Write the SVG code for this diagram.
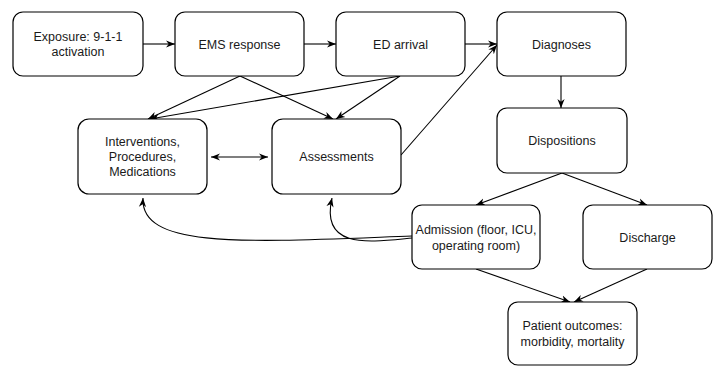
<svg xmlns="http://www.w3.org/2000/svg" width="718" height="366" viewBox="0 0 718 366">
<style>
.box{fill:#fff;stroke:#000;stroke-width:1.2}
text{font-family:"Liberation Sans",Arial,sans-serif;font-size:12.5px;fill:#1a1a1a;text-anchor:middle}
.e{fill:none;stroke:#000;stroke-width:1.1}
</style>
<defs>
<marker id="a" viewBox="0 0 10 10" refX="10" refY="5" markerWidth="9" markerHeight="9" markerUnits="userSpaceOnUse" orient="auto-start-reverse">
<path d="M0,1 L10,5 L0,9 L3,5 Z" fill="#000"/>
</marker>
</defs>
<g id="edges">
<line class="e" x1="143" y1="44" x2="175" y2="44" marker-end="url(#a)"/>
<line class="e" x1="304" y1="44" x2="336" y2="44" marker-end="url(#a)"/>
<line class="e" x1="465" y1="44" x2="497" y2="44" marker-end="url(#a)"/>
<line class="e" x1="240" y1="76" x2="148" y2="119" marker-end="url(#a)"/>
<line class="e" x1="240" y1="76" x2="333" y2="119" marker-end="url(#a)"/>
<line class="e" x1="400" y1="76" x2="150" y2="119" marker-end="url(#a)"/>
<line class="e" x1="400" y1="76" x2="336" y2="119" marker-end="url(#a)"/>
<line class="e" x1="401" y1="155" x2="497" y2="45" marker-end="url(#a)"/>
<line class="e" x1="561" y1="76" x2="561" y2="108" marker-end="url(#a)"/>
<line class="e" x1="211" y1="157" x2="268" y2="157" marker-start="url(#a)" marker-end="url(#a)"/>
<line class="e" x1="562" y1="173" x2="476" y2="205" marker-end="url(#a)"/>
<line class="e" x1="562" y1="173" x2="647" y2="205" marker-end="url(#a)"/>
<line class="e" x1="476" y1="269" x2="570" y2="302" marker-end="url(#a)"/>
<line class="e" x1="647" y1="269" x2="574" y2="302" marker-end="url(#a)"/>
<path class="e" d="M412,236 C250,242 140,250 143,198" marker-end="url(#a)"/>
<path class="e" d="M412,238 C370,242 320,250 332,198" marker-end="url(#a)"/>
</g>
<g id="exposure"><rect class="box" x="13" y="12" width="130" height="64" rx="10"/><text x="78" y="41">Exposure: 9-1-1</text><text x="78" y="56">activation</text></g>
<g id="ems"><rect class="box" x="175" y="12" width="129" height="64" rx="10"/><text x="239.5" y="48.5">EMS response</text></g>
<g id="ed"><rect class="box" x="336" y="12" width="129" height="64" rx="10"/><text x="400.5" y="48.5">ED arrival</text></g>
<g id="diagnoses"><rect class="box" x="497" y="12" width="129" height="64" rx="10"/><text x="561.5" y="48.5">Diagnoses</text></g>
<g id="dispositions"><rect class="box" x="497" y="108" width="130" height="65" rx="10"/><text x="562" y="145">Dispositions</text></g>
<g id="interventions"><rect class="box" x="78" y="119" width="129" height="75" rx="11"/><text x="142.5" y="146">Interventions,</text><text x="142.5" y="161">Procedures,</text><text x="142.5" y="176">Medications</text></g>
<g id="assessments"><rect class="box" x="272" y="119" width="129" height="75" rx="11"/><text x="336.5" y="161">Assessments</text></g>
<g id="admission"><rect class="box" x="412" y="205" width="128" height="64" rx="10"/><text x="476" y="234">Admission (floor, ICU,</text><text x="476" y="249.5">operating room)</text></g>
<g id="discharge"><rect class="box" x="583" y="205" width="129" height="64" rx="10"/><text x="647.5" y="241.5">Discharge</text></g>
<g id="outcomes"><rect class="box" x="508" y="302" width="129" height="63" rx="10"/><text x="572.5" y="330">Patient outcomes:</text><text x="572.5" y="345.5">morbidity, mortality</text></g>
</svg>
